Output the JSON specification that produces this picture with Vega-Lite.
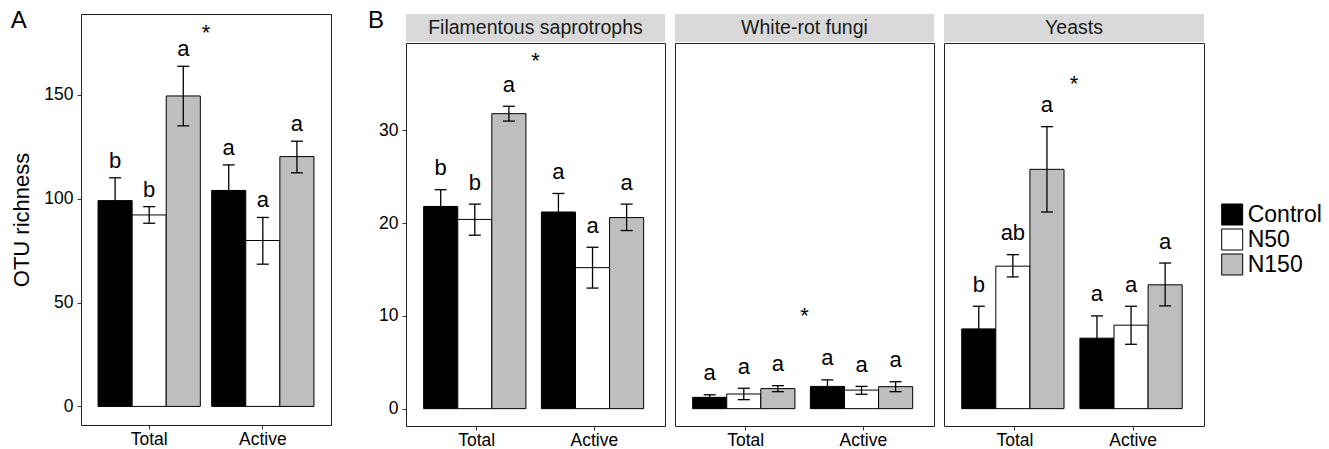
{
  "$schema": "https://vega.github.io/schema/vega-lite/v6.json",
  "background": "white",
  "padding": {"left": 10, "top": 8, "right": 0, "bottom": 0},
  "datasets": {
    "bars": [
      {"panel": "A", "type": "Total", "trt": "Control", "mean": 99.1, "lo": 88.1, "hi": 110.1, "letter": "b"},
      {"panel": "A", "type": "Total", "trt": "N50", "mean": 92.2, "lo": 88.2, "hi": 96.2, "letter": "b"},
      {"panel": "A", "type": "Total", "trt": "N150", "mean": 149.5, "lo": 135.1, "hi": 163.8, "letter": "a"},
      {"panel": "A", "type": "Active", "trt": "Control", "mean": 104, "lo": 91.7, "hi": 116.3, "letter": "a"},
      {"panel": "A", "type": "Active", "trt": "N50", "mean": 79.9, "lo": 68.5, "hi": 91, "letter": "a"},
      {"panel": "A", "type": "Active", "trt": "N150", "mean": 120.3, "lo": 112.5, "hi": 127.7, "letter": "a"},
      {"panel": "Filamentous saprotrophs", "type": "Total", "trt": "Control", "mean": 21.8, "lo": 20.0, "hi": 23.6, "letter": "b"},
      {"panel": "Filamentous saprotrophs", "type": "Total", "trt": "N50", "mean": 20.4, "lo": 18.7, "hi": 22.05, "letter": "b"},
      {"panel": "Filamentous saprotrophs", "type": "Total", "trt": "N150", "mean": 31.8, "lo": 31.0, "hi": 32.6, "letter": "a"},
      {"panel": "Filamentous saprotrophs", "type": "Active", "trt": "Control", "mean": 21.2, "lo": 19.2, "hi": 23.2, "letter": "a"},
      {"panel": "Filamentous saprotrophs", "type": "Active", "trt": "N50", "mean": 15.2, "lo": 13.0, "hi": 17.4, "letter": "a"},
      {"panel": "Filamentous saprotrophs", "type": "Active", "trt": "N150", "mean": 20.6, "lo": 19.2, "hi": 22.05, "letter": "a"},
      {"panel": "White-rot fungi", "type": "Total", "trt": "Control", "mean": 1.22, "lo": 0.94, "hi": 1.5, "letter": "a"},
      {"panel": "White-rot fungi", "type": "Total", "trt": "N50", "mean": 1.58, "lo": 0.97, "hi": 2.2, "letter": "a"},
      {"panel": "White-rot fungi", "type": "Total", "trt": "N150", "mean": 2.16, "lo": 1.83, "hi": 2.48, "letter": "a"},
      {"panel": "White-rot fungi", "type": "Active", "trt": "Control", "mean": 2.4, "lo": 1.7, "hi": 3.1, "letter": "a"},
      {"panel": "White-rot fungi", "type": "Active", "trt": "N50", "mean": 2.0, "lo": 1.55, "hi": 2.4, "letter": "a"},
      {"panel": "White-rot fungi", "type": "Active", "trt": "N150", "mean": 2.37, "lo": 1.83, "hi": 2.9, "letter": "a"},
      {"panel": "Yeasts", "type": "Total", "trt": "Control", "mean": 8.6, "lo": 6.15, "hi": 11.04, "letter": "b"},
      {"panel": "Yeasts", "type": "Total", "trt": "N50", "mean": 15.36, "lo": 14.2, "hi": 16.6, "letter": "ab"},
      {"panel": "Yeasts", "type": "Total", "trt": "N150", "mean": 25.8, "lo": 21.2, "hi": 30.4, "letter": "a"},
      {"panel": "Yeasts", "type": "Active", "trt": "Control", "mean": 7.6, "lo": 5.2, "hi": 10.0, "letter": "a"},
      {"panel": "Yeasts", "type": "Active", "trt": "N50", "mean": 9.0, "lo": 6.94, "hi": 11.04, "letter": "a"},
      {"panel": "Yeasts", "type": "Active", "trt": "N150", "mean": 13.35, "lo": 11.08, "hi": 15.7, "letter": "a"}
    ],
    "stars": [
      {"panel": "A", "y": 180, "label": "*"},
      {"panel": "Filamentous saprotrophs", "y": 37.5, "label": "*"},
      {"panel": "White-rot fungi", "y": 10, "label": "*"},
      {"panel": "Yeasts", "y": 35, "label": "*"}
    ]
  },
  "spacing": 36,
  "hconcat": [
    {
      "title": {"text": "A"},
      "width": 250,
      "height": 411,
      "data": {"name": "bars"},
      "transform": [{"filter": "datum.panel === 'A'"}],
      "layer": [
        {
          "mark": {"type": "bar", "stroke": "black", "strokeWidth": 1},
          "encoding": {
            "x": {"field": "type", "type": "nominal", "sort": ["Total", "Active"], "scale": {"paddingInner": 0.1, "paddingOuter": 0.15}, "axis": {"title": null}},
            "xOffset": {"field": "trt", "type": "nominal", "sort": ["Control", "N50", "N150"], "scale": {"paddingInner": 0, "paddingOuter": 0}},
            "y": {"field": "mean", "type": "quantitative", "scale": {"domain": [-8.95, 188.97], "nice": false, "zero": false}, "axis": {"title": "OTU richness", "values": [0, 50, 100, 150]}},
            "color": {"field": "trt", "type": "nominal", "sort": ["Control", "N50", "N150"], "scale": {"domain": ["Control", "N50", "N150"], "range": ["#000000", "#FFFFFF", "#BEBEBE"]}, "legend": {"title": null}}
          }
        },
        {
          "mark": {"type": "rule", "color": "black", "strokeWidth": 1.3},
          "encoding": {
            "x": {"field": "type", "type": "nominal", "sort": ["Total", "Active"], "axis": {"title": null}},
            "xOffset": {"field": "trt", "type": "nominal", "sort": ["Control", "N50", "N150"]},
            "y": {"field": "lo", "type": "quantitative", "axis": {"title": "OTU richness", "values": [0, 50, 100, 150]}},
            "y2": {"field": "hi"}
          }
        },
        {
          "mark": {"type": "tick", "orient": "horizontal", "size": 12, "thickness": 1.3, "color": "black", "opacity": 1},
          "encoding": {
            "x": {"field": "type", "type": "nominal", "sort": ["Total", "Active"], "axis": {"title": null}},
            "xOffset": {"field": "trt", "type": "nominal", "sort": ["Control", "N50", "N150"]},
            "y": {"field": "hi", "type": "quantitative", "axis": {"title": "OTU richness", "values": [0, 50, 100, 150]}}
          }
        },
        {
          "mark": {"type": "tick", "orient": "horizontal", "size": 12, "thickness": 1.3, "color": "black", "opacity": 1},
          "encoding": {
            "x": {"field": "type", "type": "nominal", "sort": ["Total", "Active"], "axis": {"title": null}},
            "xOffset": {"field": "trt", "type": "nominal", "sort": ["Control", "N50", "N150"]},
            "y": {"field": "lo", "type": "quantitative", "axis": {"title": "OTU richness", "values": [0, 50, 100, 150]}}
          }
        },
        {
          "mark": {"type": "text", "fontSize": 22, "baseline": "alphabetic", "dy": -10, "color": "black"},
          "encoding": {
            "x": {"field": "type", "type": "nominal", "sort": ["Total", "Active"], "axis": {"title": null}},
            "xOffset": {"field": "trt", "type": "nominal", "sort": ["Control", "N50", "N150"]},
            "y": {"field": "hi", "type": "quantitative", "axis": {"title": "OTU richness", "values": [0, 50, 100, 150]}},
            "text": {"field": "letter"}
          }
        },
        {
          "data": {"name": "stars"},
          "transform": [{"filter": "datum.panel === 'A'"}],
          "mark": {"type": "text", "fontSize": 22, "baseline": "middle", "color": "black"},
          "encoding": {
            "y": {"field": "y", "type": "quantitative", "axis": {"title": "OTU richness", "values": [0, 50, 100, 150]}},
            "text": {"field": "label"}
          }
        }
      ]
    },
    {
      "title": {"text": "B", "dx": -10},
      "spacing": 8,
      "hconcat": [
        {
          "spacing": 0,
          "vconcat": [
            {
              "data": {"name": "stars"},
              "transform": [{"filter": "datum.panel === 'Filamentous saprotrophs'"}],
              "width": 259, "height": 28,
              "view": {"fill": "#D9D9D9", "stroke": null},
              "mark": {"type": "text", "fontSize": 19.5, "color": "#1A1A1A", "baseline": "middle"},
              "encoding": {"text": {"field": "panel"}}
            },
            {
              "width": 259, "height": 383,
              "data": {"name": "bars"},
              "transform": [{"filter": "datum.panel === 'Filamentous saprotrophs'"}],
              "layer": [
                {
                  "mark": {"type": "bar", "stroke": "black", "strokeWidth": 1},
                  "encoding": {
                    "x": {"field": "type", "type": "nominal", "sort": ["Total", "Active"], "scale": {"paddingInner": 0.1, "paddingOuter": 0.15}, "axis": {"title": null}},
                    "xOffset": {"field": "trt", "type": "nominal", "sort": ["Control", "N50", "N150"], "scale": {"paddingInner": 0, "paddingOuter": 0}},
                    "y": {"field": "mean", "type": "quantitative", "scale": {"domain": [-1.87, 39.42], "nice": false, "zero": false}, "axis": {"title": null, "values": [0, 10, 20, 30]}},
                    "color": {"field": "trt", "type": "nominal", "sort": ["Control", "N50", "N150"], "legend": {"title": null}}
                  }
                },
                {
                  "mark": {"type": "rule", "color": "black", "strokeWidth": 1.3},
                  "encoding": {
                    "x": {"field": "type", "type": "nominal", "sort": ["Total", "Active"], "axis": {"title": null}},
                    "xOffset": {"field": "trt", "type": "nominal", "sort": ["Control", "N50", "N150"]},
                    "y": {"field": "lo", "type": "quantitative", "axis": {"title": null, "values": [0, 10, 20, 30]}},
                    "y2": {"field": "hi"}
                  }
                },
                {
                  "mark": {"type": "tick", "orient": "horizontal", "size": 12, "thickness": 1.3, "color": "black", "opacity": 1},
                  "encoding": {
                    "x": {"field": "type", "type": "nominal", "sort": ["Total", "Active"], "axis": {"title": null}},
                    "xOffset": {"field": "trt", "type": "nominal", "sort": ["Control", "N50", "N150"]},
                    "y": {"field": "hi", "type": "quantitative", "axis": {"title": null, "values": [0, 10, 20, 30]}}
                  }
                },
                {
                  "mark": {"type": "tick", "orient": "horizontal", "size": 12, "thickness": 1.3, "color": "black", "opacity": 1},
                  "encoding": {
                    "x": {"field": "type", "type": "nominal", "sort": ["Total", "Active"], "axis": {"title": null}},
                    "xOffset": {"field": "trt", "type": "nominal", "sort": ["Control", "N50", "N150"]},
                    "y": {"field": "lo", "type": "quantitative", "axis": {"title": null, "values": [0, 10, 20, 30]}}
                  }
                },
                {
                  "mark": {"type": "text", "fontSize": 22, "baseline": "alphabetic", "dy": -14.5, "color": "black"},
                  "encoding": {
                    "x": {"field": "type", "type": "nominal", "sort": ["Total", "Active"], "axis": {"title": null}},
                    "xOffset": {"field": "trt", "type": "nominal", "sort": ["Control", "N50", "N150"]},
                    "y": {"field": "hi", "type": "quantitative", "axis": {"title": null, "values": [0, 10, 20, 30]}},
                    "text": {"field": "letter"}
                  }
                },
                {
                  "data": {"name": "stars"},
                  "transform": [{"filter": "datum.panel === 'Filamentous saprotrophs'"}],
                  "mark": {"type": "text", "fontSize": 22, "baseline": "middle", "color": "black"},
                  "encoding": {
                    "y": {"field": "y", "type": "quantitative", "axis": {"title": null, "values": [0, 10, 20, 30]}},
                    "text": {"field": "label"}
                  }
                }
              ]
            }
          ]
        },
        {
          "spacing": 0,
          "vconcat": [
            {
              "data": {"name": "stars"},
              "transform": [{"filter": "datum.panel === 'White-rot fungi'"}],
              "width": 259, "height": 28,
              "view": {"fill": "#D9D9D9", "stroke": null},
              "mark": {"type": "text", "fontSize": 19.5, "color": "#1A1A1A", "baseline": "middle"},
              "encoding": {"text": {"field": "panel"}}
            },
            {
              "width": 259, "height": 383,
              "data": {"name": "bars"},
              "transform": [{"filter": "datum.panel === 'White-rot fungi'"}],
              "layer": [
                {
                  "mark": {"type": "bar", "stroke": "black", "strokeWidth": 1},
                  "encoding": {
                    "x": {"field": "type", "type": "nominal", "sort": ["Total", "Active"], "scale": {"paddingInner": 0.1, "paddingOuter": 0.15}, "axis": {"title": null}},
                    "xOffset": {"field": "trt", "type": "nominal", "sort": ["Control", "N50", "N150"], "scale": {"paddingInner": 0, "paddingOuter": 0}},
                    "y": {"field": "mean", "type": "quantitative", "scale": {"domain": [-1.87, 39.42], "nice": false, "zero": false}, "axis": null},
                    "color": {"field": "trt", "type": "nominal", "sort": ["Control", "N50", "N150"], "legend": {"title": null}}
                  }
                },
                {
                  "mark": {"type": "rule", "color": "black", "strokeWidth": 1.3},
                  "encoding": {
                    "x": {"field": "type", "type": "nominal", "sort": ["Total", "Active"], "axis": {"title": null}},
                    "xOffset": {"field": "trt", "type": "nominal", "sort": ["Control", "N50", "N150"]},
                    "y": {"field": "lo", "type": "quantitative", "axis": null},
                    "y2": {"field": "hi"}
                  }
                },
                {
                  "mark": {"type": "tick", "orient": "horizontal", "size": 12, "thickness": 1.3, "color": "black", "opacity": 1},
                  "encoding": {
                    "x": {"field": "type", "type": "nominal", "sort": ["Total", "Active"], "axis": {"title": null}},
                    "xOffset": {"field": "trt", "type": "nominal", "sort": ["Control", "N50", "N150"]},
                    "y": {"field": "hi", "type": "quantitative", "axis": null}
                  }
                },
                {
                  "mark": {"type": "tick", "orient": "horizontal", "size": 12, "thickness": 1.3, "color": "black", "opacity": 1},
                  "encoding": {
                    "x": {"field": "type", "type": "nominal", "sort": ["Total", "Active"], "axis": {"title": null}},
                    "xOffset": {"field": "trt", "type": "nominal", "sort": ["Control", "N50", "N150"]},
                    "y": {"field": "lo", "type": "quantitative", "axis": null}
                  }
                },
                {
                  "mark": {"type": "text", "fontSize": 22, "baseline": "alphabetic", "dy": -14.5, "color": "black"},
                  "encoding": {
                    "x": {"field": "type", "type": "nominal", "sort": ["Total", "Active"], "axis": {"title": null}},
                    "xOffset": {"field": "trt", "type": "nominal", "sort": ["Control", "N50", "N150"]},
                    "y": {"field": "hi", "type": "quantitative", "axis": null},
                    "text": {"field": "letter"}
                  }
                },
                {
                  "data": {"name": "stars"},
                  "transform": [{"filter": "datum.panel === 'White-rot fungi'"}],
                  "mark": {"type": "text", "fontSize": 22, "baseline": "middle", "color": "black"},
                  "encoding": {
                    "y": {"field": "y", "type": "quantitative", "axis": null},
                    "text": {"field": "label"}
                  }
                }
              ]
            }
          ]
        },
        {
          "spacing": 0,
          "vconcat": [
            {
              "data": {"name": "stars"},
              "transform": [{"filter": "datum.panel === 'Yeasts'"}],
              "width": 260, "height": 28,
              "view": {"fill": "#D9D9D9", "stroke": null},
              "mark": {"type": "text", "fontSize": 19.5, "color": "#1A1A1A", "baseline": "middle"},
              "encoding": {"text": {"field": "panel"}}
            },
            {
              "width": 260, "height": 383,
              "data": {"name": "bars"},
              "transform": [{"filter": "datum.panel === 'Yeasts'"}],
              "layer": [
                {
                  "mark": {"type": "bar", "stroke": "black", "strokeWidth": 1},
                  "encoding": {
                    "x": {"field": "type", "type": "nominal", "sort": ["Total", "Active"], "scale": {"paddingInner": 0.1, "paddingOuter": 0.15}, "axis": {"title": null}},
                    "xOffset": {"field": "trt", "type": "nominal", "sort": ["Control", "N50", "N150"], "scale": {"paddingInner": 0, "paddingOuter": 0}},
                    "y": {"field": "mean", "type": "quantitative", "scale": {"domain": [-1.87, 39.42], "nice": false, "zero": false}, "axis": null},
                    "color": {"field": "trt", "type": "nominal", "sort": ["Control", "N50", "N150"], "legend": {"title": null}}
                  }
                },
                {
                  "mark": {"type": "rule", "color": "black", "strokeWidth": 1.3},
                  "encoding": {
                    "x": {"field": "type", "type": "nominal", "sort": ["Total", "Active"], "axis": {"title": null}},
                    "xOffset": {"field": "trt", "type": "nominal", "sort": ["Control", "N50", "N150"]},
                    "y": {"field": "lo", "type": "quantitative", "axis": null},
                    "y2": {"field": "hi"}
                  }
                },
                {
                  "mark": {"type": "tick", "orient": "horizontal", "size": 12, "thickness": 1.3, "color": "black", "opacity": 1},
                  "encoding": {
                    "x": {"field": "type", "type": "nominal", "sort": ["Total", "Active"], "axis": {"title": null}},
                    "xOffset": {"field": "trt", "type": "nominal", "sort": ["Control", "N50", "N150"]},
                    "y": {"field": "hi", "type": "quantitative", "axis": null}
                  }
                },
                {
                  "mark": {"type": "tick", "orient": "horizontal", "size": 12, "thickness": 1.3, "color": "black", "opacity": 1},
                  "encoding": {
                    "x": {"field": "type", "type": "nominal", "sort": ["Total", "Active"], "axis": {"title": null}},
                    "xOffset": {"field": "trt", "type": "nominal", "sort": ["Control", "N50", "N150"]},
                    "y": {"field": "lo", "type": "quantitative", "axis": null}
                  }
                },
                {
                  "mark": {"type": "text", "fontSize": 22, "baseline": "alphabetic", "dy": -14.5, "color": "black"},
                  "encoding": {
                    "x": {"field": "type", "type": "nominal", "sort": ["Total", "Active"], "axis": {"title": null}},
                    "xOffset": {"field": "trt", "type": "nominal", "sort": ["Control", "N50", "N150"]},
                    "y": {"field": "hi", "type": "quantitative", "axis": null},
                    "text": {"field": "letter"}
                  }
                },
                {
                  "data": {"name": "stars"},
                  "transform": [{"filter": "datum.panel === 'Yeasts'"}],
                  "mark": {"type": "text", "fontSize": 22, "baseline": "middle", "color": "black"},
                  "encoding": {
                    "y": {"field": "y", "type": "quantitative", "axis": null},
                    "text": {"field": "label"}
                  }
                }
              ]
            }
          ]
        }
      ]
    }
  ],
  "config": {
    "font": "Liberation Sans",
    "view": {"stroke": "#222222", "strokeWidth": 1},
    "title": {"font": "Liberation Sans", "fontSize": 24, "fontWeight": "normal", "anchor": "start", "baseline": "alphabetic", "offset": -19, "color": "black", "frame": "bounds"},
    "axis": {"domain": false, "grid": false, "tickColor": "#333333", "tickSize": 4, "labelFont": "Liberation Sans", "labelFontSize": 17.5, "labelColor": "black", "titleFont": "Liberation Sans", "titleFontSize": 22, "titleFontWeight": "normal", "titleColor": "black"},
    "axisX": {"labelAngle": 0, "labelPadding": 1},
    "axisY": {"labelPadding": 4, "titlePadding": 10},
    "legend": {"orient": "none", "legendX": 1139.7, "legendY": 189, "padding": 0, "symbolType": "square", "symbolSize": 441, "symbolStrokeColor": "black", "symbolStrokeWidth": 1, "symbolOpacity": 1, "labelFont": "Liberation Sans", "labelFontSize": 23, "labelColor": "black", "labelOffset": 4, "rowPadding": 0}
  }
}
